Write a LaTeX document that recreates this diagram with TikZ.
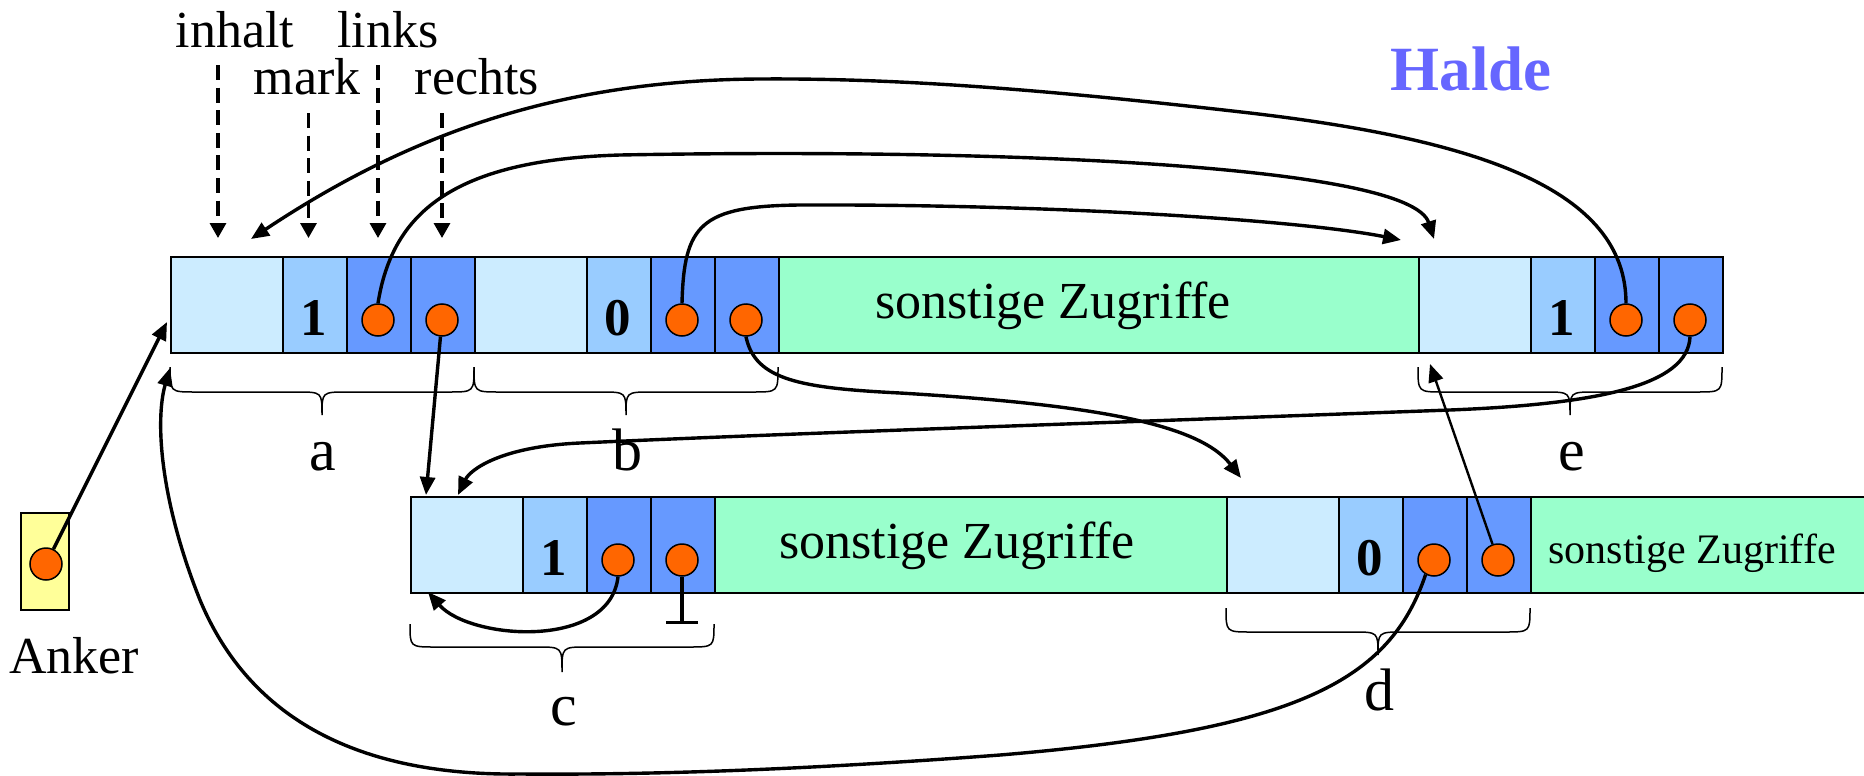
\documentclass[tikz,border=0pt]{standalone}
\usepackage{fontspec}
\setmainfont{Liberation Serif}
\usetikzlibrary{arrows.meta}

\definecolor{inhaltc}{HTML}{CCECFF}
\definecolor{markc}{HTML}{99CCFF}
\definecolor{ptrc}{HTML}{6699FF}
\definecolor{restc}{HTML}{99FFCC}
\definecolor{dotc}{HTML}{FF6600}
\definecolor{ankerc}{HTML}{FFFF99}
\definecolor{haldec}{HTML}{6666FF}

\tikzset{
  cellbox/.style={draw, line width=1pt, inner sep=0pt, minimum height=48pt, anchor=north west},
  bigcell/.style={cellbox, minimum width=56pt},
  smallcell/.style={cellbox, minimum width=32pt},
  refdot/.style={circle, draw, line width=0.75pt, fill=dotc, minimum size=16pt, inner sep=0pt},
  ptr/.style={line width=1.7pt, -{Triangle[length=9pt,width=7.5pt]}},
  hint/.style={line width=1.6pt, dash pattern=on 7.5pt off 3.8pt, -{Triangle[length=7.5pt,width=8pt]}},
  curly/.style={line width=0.75pt},
  lbl/.style={font=\fontsize{26}{30}\selectfont, inner sep=0pt, anchor=base},
  letter/.style={font=\fontsize{30}{34}\selectfont, inner sep=0pt, anchor=base},
  digit/.style={font=\bfseries\fontsize{26.5}{30}\selectfont, inner sep=0pt, anchor=base},
}

% one heap cell: inhalt | mark | links | rechts
\newcommand\heapblock[4]{%
  \node[bigcell, fill=inhaltc] (#1-i) at (#2,#3) {};
  \node[smallcell, fill=markc] (#1-m) at (#2+112,#3) {};
  \node[smallcell, fill=ptrc] (#1-l) at (#2+176,#3) {};
  \node[smallcell, fill=ptrc] (#1-r) at (#2+240,#3) {};
  \node[digit] (#1-v) at (#2+144,#3+79) {#4};
  \node[refdot] (#1-lp) at (#2+208,#3+64) {};
  \node[refdot] (#1-rp) at (#2+272,#3+64) {};
}

% curly brace opening upwards: x1, x2, top, middle line, tip
\newcommand\curlybrace[5]{%
  \draw[curly] (#1,#3) .. controls (#1,#4) .. (#1+25,#4)
    -- ({(#1+#2)/2-25},#4) .. controls ({(#1+#2)/2},#4) .. ({(#1+#2)/2},#5)
    .. controls ({(#1+#2)/2},#4) .. ({(#1+#2)/2+25},#4)
    -- (#2-25,#4) .. controls (#2,#4) .. (#2,#3);
}

\begin{document}
\begin{tikzpicture}[x=0.5pt, y=-0.5pt]
\clip (0,0) rectangle (1864,776);

% upper row
\heapblock{a}{170}{256}{1}
\heapblock{b}{474}{256}{0}
\node[bigcell, fill=restc, minimum width=320pt] (g1) at (778,256) {};
\heapblock{e}{1418}{256}{1}
\node[lbl] (g1t) at (1053,318) {sonstige Zugriffe};

% lower row
\heapblock{c}{410}{496}{1}
\node[bigcell, fill=restc, minimum width=256pt] (g2) at (714,496) {};
\heapblock{d}{1226}{496}{0}
\node[bigcell, fill=restc, minimum width=172pt] (g3) at (1530,496) {};
\node[lbl] (g2t) at (957,558) {sonstige Zugriffe};
\node[lbl, font=\fontsize{21}{25}\selectfont] (g3t) at (1692,563) {sonstige Zugriffe};

% anchor variable
\node[draw, line width=0.75pt, fill=ankerc, minimum width=24pt, minimum height=48.5pt, inner sep=0pt] (anker) at (45,561.5) {};
\node[refdot] (anker-p) at (46,564) {};
\node[lbl] (anker-t) at (74,673) {Anker};

% title
\node[lbl, font=\bfseries\fontsize{31.5}{36}\selectfont, text=haldec] (halde) at (1471,90) {Halde};

% field names
\node[lbl] (l-inhalt) at (235,47) {inhalt};
\node[lbl] (l-links) at (388,47) {links};
\node[lbl] (l-mark) at (307,94) {mark};
\node[lbl] (l-rechts) at (477,94) {rechts};
\coordinate (hi0) at (218,65);   \coordinate (hi1) at (218,238);
\coordinate (hm0) at (308.5,113); \coordinate (hm1) at (308.5,238);
\coordinate (hl0) at (378,65);   \coordinate (hl1) at (378,238);
\coordinate (hr0) at (442,113);  \coordinate (hr1) at (442,238);
\draw[hint] (hi0) -- (hi1);
\draw[hint] (hm0) -- (hm1);
\draw[hint] (hl0) -- (hl1);
\draw[hint] (hr0) -- (hr1);

% braces and cell names
\curlybrace{170}{474}{367}{392}{415}
\curlybrace{474}{778}{367}{392}{415}
\curlybrace{1418}{1722}{367}{392}{415}
\curlybrace{410}{714}{624}{647}{672}
\curlybrace{1226}{1530}{608}{632}{655}
\node[letter] (n-a) at (323,470) {a};
\node[letter] (n-b) at (627.5,470) {b};
\node[letter] (n-e) at (1572,470) {e};
\node[letter] (n-c) at (564,725) {c};
\node[letter] (n-d) at (1379,710) {d};

% arrow targets
\coordinate (tanker) at (167,322);
\coordinate (tleft) at (170,368);
\coordinate (tai) at (251,239);
\coordinate (tei) at (1434,239);
\coordinate (teb) at (1401,240);
\coordinate (tdi) at (1241,478);
\coordinate (tci1) at (426,495);
\coordinate (tci2) at (458,495);
\coordinate (tci3) at (428,592);
\coordinate (teu) at (1430,364);
\coordinate (cnil) at (682,624);

% pointers
\draw[ptr] (anker-p) -- (tanker);
\draw[ptr] (a-lp.north) .. controls (392,215) and (450,160) .. (620,155)
  .. controls (1000,148) and (1410,165) .. (tei);
\draw[ptr] (e-lp.north) .. controls (1626,190) and (1480,140) .. (1250,113)
  .. controls (1050,90) and (900,78) .. (760,79)
  .. controls (550,80) and (400,140) .. (tai);
\draw[ptr] (b-lp.north) .. controls (684,225) and (700,206) .. (800,205)
  .. controls (1050,204) and (1300,220) .. (teb);
\draw[ptr] (b-rp.south) .. controls (755,380) and (800,388) .. (900,393)
  .. controls (1100,405) and (1200,425) .. (tdi);
\draw[ptr] (a-rp) -- (tci1);
\draw[ptr] (e-rp.south) .. controls (1688,385) and (1600,404) .. (1450,410)
  .. controls (1100,423) and (800,433) .. (580,443)
  .. controls (500,446.6) and (470,470) .. (tci2);
\draw[ptr, line width=1.2pt] (d-rp) -- (teu);
\draw[ptr] (c-lp.south) .. controls (610,650) and (470,640) .. (tci3);
\draw[ptr] (d-lp.240) .. controls (1390,680) and (1300,730) .. (1000,755)
  .. controls (800,770) and (650,775) .. (520,774)
  .. controls (360,776) and (250,720) .. (200,600)
  .. controls (160,500) and (155,420) .. (tleft);
\draw[line width=1.7pt, -{Bar[width=16pt]}] (c-rp.south) -- (cnil);
\end{tikzpicture}
\end{document}
